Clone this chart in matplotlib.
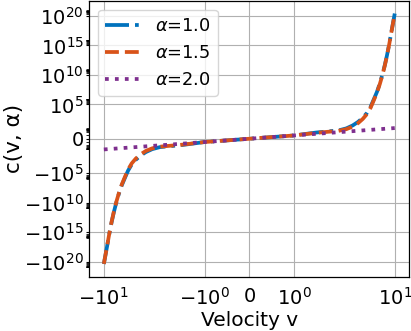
import numpy as np
import matplotlib
matplotlib.use("Agg")
import matplotlib.pyplot as plt
from matplotlib.ticker import FixedLocator

# ---- data ----
velocity = [-10, -9.5, -9, -8.5, -8, -7.5, -7, -6.5, -6, -5.5, -5, -4.5, -4, -3.5, -3, -2.5, -2, -1.5, -1, -0.5,
            0, 0.5, 1, 1.5, 2, 2.5, 3, 3.5, 4, 4.5, 5, 5.5, 6, 6.5, 7, 7.5, 8, 8.5, 9, 9.5, 10]

c_alpha_10 = [-2.5e20, -5.6e18, -1.0e17, -1.3e15, -2.0e13, -4.0e11, -1.0e10, -3.2e8, -1.3e7, -8.0e5, -4.0e4,
              -3.5e3, -560, -112, -28, -8.9, -4.0, -1.9, -1.0, -0.5,
              0, 0.5, 1.0, 1.9, 4.0, 8.9, 28, 112, 560, 3.5e3, 4.0e4, 8.0e5, 1.3e7, 3.2e8, 1.0e10, 4.0e11,
              2.0e13, 1.3e15, 1.0e17, 5.6e18, 2.5e20]

c_alpha_15 = [-2.4e20, -5.2e18, -9.0e16, -1.15e15, -1.7e13, -3.3e11, -8.0e9, -2.5e8, -9.5e6, -5.5e5, -2.7e4,
              -2.3e3, -350, -70, -18, -6.5, -3.4, -1.8, -1.0, -0.5,
              0, 0.5, 1.0, 1.8, 3.4, 6.5, 18, 70, 350, 2.3e3, 2.7e4, 5.5e5, 9.5e6, 2.5e8, 8.0e9, 3.3e11,
              1.7e13, 1.15e15, 9.0e16, 5.2e18, 2.4e20]

c_alpha_20 = [-10, -9.5, -9, -8.5, -8, -7.5, -7, -6.5, -6, -5.5, -5, -4.5, -4, -3.5, -3, -2.5, -2, -1.5, -1, -0.5,
              0, 0.5, 1, 1.5, 2, 2.5, 3, 3.5, 4, 4.5, 5, 5.5, 6, 6.5, 7, 7.5, 8, 8.5, 9, 9.5, 10]

series_labels = [r"$\alpha$=1.0", r"$\alpha$=1.5", r"$\alpha$=2.0"]
x_ticks = [-10, -1, 0, 1, 10]
y_ticks = [-1e20, -1e15, -1e10, -1e5, 0, 1e5, 1e10, 1e15, 1e20]

# ---- figure ----
plt.rcParams['font.family'] = ['DejaVu Sans']
plt.rcParams['font.size'] = 12

fig = plt.figure(figsize=(4.11, 3.31), dpi=100)
W, H = 411, 331
ax = fig.add_axes([89.3 / W, (H - 276.5) / H, (409.3 - 89.3) / W, (276.5 - 1.0) / H])

blue = (0.0, 0.447, 0.741)
orange = (0.85, 0.325, 0.098)
purple = (0.494, 0.184, 0.556)
lw = 2.7

ax.plot(velocity, c_alpha_10, linestyle='-.', color=blue, lw=lw, label=series_labels[0])
ax.plot(velocity, c_alpha_15, linestyle='--', color=orange, lw=lw, label=series_labels[1])
ax.plot(velocity, c_alpha_20, linestyle=':', color=purple, lw=lw, label=series_labels[2])

ax.set_xscale('symlog', linthresh=2, linscale=1)
ax.set_yscale('symlog', linthresh=2, linscale=1)

ax.xaxis.set_major_locator(FixedLocator(x_ticks))
ax.xaxis.set_minor_locator(FixedLocator([]))
ax.yaxis.set_major_locator(FixedLocator(y_ticks))
minor = []
for k in [0, 5, 10, 15, 20]:
    for s in range(2, 10):
        minor.append(s * 10.0 ** k)
        minor.append(-s * 10.0 ** k)
minor += [1.0, -1.0]
ax.yaxis.set_minor_locator(FixedLocator(minor))

ax.grid(True, which='major', color='#b0b0b0', lw=0.8)
ax.set_axisbelow(True)
ax.tick_params(axis='x', which='both', length=0, pad=7.5, labelsize=14)
ax.tick_params(axis='y', which='major', length=2.5, width=0.8, pad=1.5, labelsize=14)
ax.tick_params(axis='y', which='minor', length=2.0, width=0.6)

for sp in ax.spines.values():
    sp.set_color('black')
    sp.set_linewidth(0.9)

ax.set_xlabel('Velocity v', fontsize=14.5, labelpad=1.5)
ax.set_ylabel('c(v, α)', fontsize=15.5, labelpad=0)
ax.yaxis.set_label_coords(-0.205, 0.5)

ax.legend(loc='upper left', fontsize=12.8, framealpha=0.8)

fig.savefig('out.png', dpi=100)
